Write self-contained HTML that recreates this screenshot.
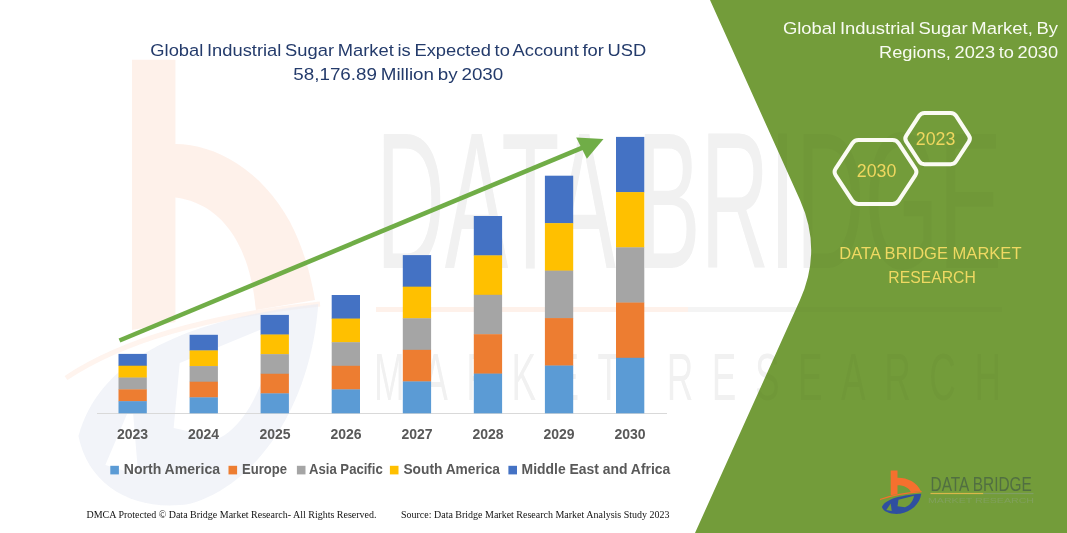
<!DOCTYPE html>
<html>
<head>
<meta charset="utf-8">
<title>Global Industrial Sugar Market</title>
<style>
  html, body { margin: 0; padding: 0; background: #ffffff; }
  body { width: 1067px; height: 533px; overflow: hidden; position: relative; font-family: "Liberation Sans", sans-serif; }
  svg { position: absolute; left: 0; top: 0; display: block; }
  text { font-family: "Liberation Sans", sans-serif; }
  .serif { font-family: "Liberation Serif", serif; }
</style>
</head>
<body>
<svg width="1067" height="533" viewBox="0 0 1067 533">
  <rect x="0" y="0" width="1067" height="533" fill="#ffffff"/>

  <!-- WATERMARK-START -->
  <g opacity="0.1">
    <path d="M132,59.7 H175.4 V144 C215,144 262,170 290,222 C302,245 310,270 315,300 L256,310 C252,262 232,205 175.4,197.6 V322 L132,330 Z" fill="#F6702E"/>
    <path d="M66,378 Q150,322 320,304" fill="none" stroke="#F6702E" stroke-width="5" opacity="0.8"/>
    <g transform="translate(73,66) scale(6.1,10)" opacity="0.65"><path d="M0.9,37 C4,30 16,25.5 40.2,23.8 C39,34 30,42 19,43.8 C10,44.6 2.5,42 0.9,37 Z" fill="#2F4FA0"/><path d="M17.5,29.7 L33,25.8 C32,32 28,36 24,37.2 L16.5,36.2 Z" fill="#ffffff"/><path d="M9.7,33.6 L5.3,39.9 L10.7,40.9 Z" fill="#ffffff"/></g>
    <rect x="376" y="307" width="312" height="5" fill="#F6702E"/>
  </g>
  <g opacity="0.042"><text x="376" y="268" font-size="194" fill="#222222" textLength="626" lengthAdjust="spacingAndGlyphs">DATA BRIDGE</text>
      <rect x="688" y="307" width="314" height="5" fill="#555555"/>
      <text transform="translate(374,400) scale(0.55,1)" x="0" y="0" font-size="67" fill="#222222" textLength="1140" lengthAdjust="spacing">MARKET RESEARCH</text></g>
  <!-- WATERMARK-END -->

  <!-- green side panel -->
  <path d="M710,0 L800,200 Q822.4,250 800,300 L695,533 L1067,533 L1067,0 Z" fill="#739C3A"/>

  <!-- WM2-START -->
  <g opacity="0.02"><text x="376" y="268" font-size="194" fill="#222222" textLength="626" lengthAdjust="spacingAndGlyphs">DATA BRIDGE</text>
      <rect x="688" y="307" width="314" height="5" fill="#555555"/>
      <text transform="translate(374,400) scale(0.55,1)" x="0" y="0" font-size="67" fill="#222222" textLength="1140" lengthAdjust="spacing">MARKET RESEARCH</text></g>
  <!-- WM2-END -->

  <!-- chart axis -->
  <rect x="97" y="413" width="570" height="1" fill="#D9D9D9"/>

  <!-- BARS-START -->
  <rect x="118.5" y="353.90" width="28.3" height="12.12" fill="#4472C4"/>
  <rect x="118.5" y="365.72" width="28.3" height="12.12" fill="#FFC000"/>
  <rect x="118.5" y="377.54" width="28.3" height="12.12" fill="#A5A5A5"/>
  <rect x="118.5" y="389.36" width="28.3" height="12.12" fill="#ED7D31"/>
  <rect x="118.5" y="401.18" width="28.3" height="12.12" fill="#5B9BD5"/>
  <rect x="189.6" y="334.80" width="28.3" height="15.94" fill="#4472C4"/>
  <rect x="189.6" y="350.44" width="28.3" height="15.94" fill="#FFC000"/>
  <rect x="189.6" y="366.08" width="28.3" height="15.94" fill="#A5A5A5"/>
  <rect x="189.6" y="381.72" width="28.3" height="15.94" fill="#ED7D31"/>
  <rect x="189.6" y="397.36" width="28.3" height="15.94" fill="#5B9BD5"/>
  <rect x="260.6" y="314.90" width="28.3" height="19.92" fill="#4472C4"/>
  <rect x="260.6" y="334.52" width="28.3" height="19.92" fill="#FFC000"/>
  <rect x="260.6" y="354.14" width="28.3" height="19.92" fill="#A5A5A5"/>
  <rect x="260.6" y="373.76" width="28.3" height="19.92" fill="#ED7D31"/>
  <rect x="260.6" y="393.38" width="28.3" height="19.92" fill="#5B9BD5"/>
  <rect x="331.7" y="295.00" width="28.3" height="23.90" fill="#4472C4"/>
  <rect x="331.7" y="318.60" width="28.3" height="23.90" fill="#FFC000"/>
  <rect x="331.7" y="342.20" width="28.3" height="23.90" fill="#A5A5A5"/>
  <rect x="331.7" y="365.80" width="28.3" height="23.90" fill="#ED7D31"/>
  <rect x="331.7" y="389.40" width="28.3" height="23.90" fill="#5B9BD5"/>
  <rect x="402.8" y="255.10" width="28.3" height="31.88" fill="#4472C4"/>
  <rect x="402.8" y="286.68" width="28.3" height="31.88" fill="#FFC000"/>
  <rect x="402.8" y="318.26" width="28.3" height="31.88" fill="#A5A5A5"/>
  <rect x="402.8" y="349.84" width="28.3" height="31.88" fill="#ED7D31"/>
  <rect x="402.8" y="381.42" width="28.3" height="31.88" fill="#5B9BD5"/>
  <rect x="473.8" y="216.00" width="28.3" height="39.70" fill="#4472C4"/>
  <rect x="473.8" y="255.40" width="28.3" height="39.70" fill="#FFC000"/>
  <rect x="473.8" y="294.80" width="28.3" height="39.70" fill="#A5A5A5"/>
  <rect x="473.8" y="334.20" width="28.3" height="39.70" fill="#ED7D31"/>
  <rect x="473.8" y="373.60" width="28.3" height="39.70" fill="#5B9BD5"/>
  <rect x="544.9" y="175.70" width="28.3" height="47.76" fill="#4472C4"/>
  <rect x="544.9" y="223.16" width="28.3" height="47.76" fill="#FFC000"/>
  <rect x="544.9" y="270.62" width="28.3" height="47.76" fill="#A5A5A5"/>
  <rect x="544.9" y="318.08" width="28.3" height="47.76" fill="#ED7D31"/>
  <rect x="544.9" y="365.54" width="28.3" height="47.76" fill="#5B9BD5"/>
  <rect x="616.0" y="136.90" width="28.3" height="55.52" fill="#4472C4"/>
  <rect x="616.0" y="192.12" width="28.3" height="55.52" fill="#FFC000"/>
  <rect x="616.0" y="247.34" width="28.3" height="55.52" fill="#A5A5A5"/>
  <rect x="616.0" y="302.56" width="28.3" height="55.52" fill="#ED7D31"/>
  <rect x="616.0" y="357.78" width="28.3" height="55.52" fill="#5B9BD5"/>
  <!-- BARS-END -->

  <!-- trend arrow -->
  <line x1="119.5" y1="340.5" x2="588" y2="145.4" stroke="#70AD47" stroke-width="4.6"/>
  <polygon points="603.5,139 576.2,137.5 586.9,158.8" fill="#70AD47"/>

  <!-- year labels -->
  <g font-size="14" font-weight="bold" fill="#595959" text-anchor="middle">
    <text x="132.5" y="439">2023</text>
    <text x="203.5" y="439">2024</text>
    <text x="275" y="439">2025</text>
    <text x="346" y="439">2026</text>
    <text x="417" y="439">2027</text>
    <text x="488" y="439">2028</text>
    <text x="559" y="439">2029</text>
    <text x="630" y="439">2030</text>
  </g>

  <!-- legend -->
  <g font-size="14" font-weight="bold" fill="#595959">
    <rect x="110.3" y="465.8" width="8.6" height="8.6" fill="#5B9BD5"/>
    <text x="123.8" y="474" textLength="96.2" lengthAdjust="spacingAndGlyphs">North America</text>
    <rect x="228.5" y="465.8" width="8.6" height="8.6" fill="#ED7D31"/>
    <text x="242" y="474" textLength="45" lengthAdjust="spacingAndGlyphs">Europe</text>
    <rect x="296.9" y="465.8" width="8.6" height="8.6" fill="#A5A5A5"/>
    <text x="309" y="474" textLength="73.7" lengthAdjust="spacingAndGlyphs">Asia Pacific</text>
    <rect x="389.9" y="465.8" width="8.6" height="8.6" fill="#FFC000"/>
    <text x="403.4" y="474" textLength="96.6" lengthAdjust="spacingAndGlyphs">South America</text>
    <rect x="508.4" y="465.8" width="8.6" height="8.6" fill="#4472C4"/>
    <text x="521.6" y="474" textLength="148.7" lengthAdjust="spacingAndGlyphs">Middle East and Africa</text>
  </g>

  <!-- chart title -->
  <g font-size="17.2" fill="#243B6B" word-spacing="-1.3">
    <text x="150.3" y="55.6" textLength="496" lengthAdjust="spacingAndGlyphs">Global Industrial Sugar Market is Expected to Account for USD</text>
    <text x="293.3" y="80" textLength="210" lengthAdjust="spacingAndGlyphs">58,176.89 Million by 2030</text>
  </g>

  <!-- panel title -->
  <g font-size="17.2" fill="#F8FBF2" word-spacing="-1.3">
    <text x="782.9" y="33.7" textLength="275.2" lengthAdjust="spacingAndGlyphs">Global Industrial Sugar Market, By</text>
    <text x="879" y="57.9" textLength="179.1" lengthAdjust="spacingAndGlyphs">Regions, 2023 to 2030</text>
  </g>

  <!-- hexagons -->
  <g fill="none" stroke="#FBFBF3" stroke-width="4" stroke-linejoin="round">
    <path d="M835.69,175.34 Q833.50,172.00 835.69,168.66 L852.31,143.34 Q854.50,140.00 858.50,140.00 L892.50,140.00 Q896.50,140.00 898.69,143.34 L915.31,168.66 Q917.50,172.00 915.31,175.34 L898.69,200.66 Q896.50,204.00 892.50,204.00 L858.50,204.00 Q854.50,204.00 852.31,200.66 Z"/>
    <path d="M906.30,141.54 Q904.40,138.60 906.30,135.66 L919.10,115.94 Q921.00,113.00 924.50,113.00 L950.70,113.00 Q954.20,113.00 956.10,115.94 L968.90,135.66 Q970.80,138.60 968.90,141.54 L956.10,161.26 Q954.20,164.20 950.70,164.20 L924.50,164.20 Q921.00,164.20 919.10,161.26 Z"/>
  </g>
  <g font-size="17.8" fill="#EFD75F" text-anchor="middle">
    <text x="876.6" y="177.3">2030</text>
    <text x="935.6" y="144.6">2023</text>
  </g>

  <!-- panel brand text -->
  <g font-size="17.2" fill="#EFD962">
    <text x="839.3" y="258.9" textLength="182.2" lengthAdjust="spacingAndGlyphs">DATA BRIDGE MARKET</text>
    <text x="888.3" y="282.6" textLength="87.5" lengthAdjust="spacingAndGlyphs">RESEARCH</text>
  </g>

  <!-- LOGO-START -->
  <g transform="translate(881,470)"><path d="M9.7,0.4 H16.5 V7.7 C26,7.5 36,12 39.8,20.9 L29.8,22.3 C28.5,18 23,15.3 16.5,15.3 V24.2 L9.7,25.2 Z" fill="#F6702E"/><path d="M-1,29.4 Q15,23.6 40.6,21.6" fill="none" stroke="#F6702E" stroke-width="1.1"/><path d="M0.9,37 C4,30 16,25.5 40.2,23.8 C39,34 30,42 19,43.8 C10,44.6 2.5,42 0.9,37 Z" fill="#2F4FA0"/><path d="M17.5,29.7 L33,25.8 C32,32 28,36 24,37.2 L16.5,36.2 Z" fill="#739C3A"/><path d="M9.7,33.6 L5.3,39.9 L10.7,40.9 Z" fill="#739C3A"/></g>
  <text x="930.5" y="490.8" font-size="20.4" fill="#4E6A42" fill-opacity="0.9" textLength="101.4" lengthAdjust="spacingAndGlyphs">DATA BRIDGE</text>
  <rect x="930.5" y="492.9" width="53" height="1.2" fill="#D9B84A"/>
  <rect x="983.5" y="492.9" width="50" height="1.2" fill="#7F9E63"/>
  <text x="928" y="503" font-size="6.8" fill="#80A05C" textLength="106" lengthAdjust="spacingAndGlyphs">MARKET RESEARCH</text>
  <!-- LOGO-END -->

  <!-- footer -->
  <g class="serif" font-size="10.6" fill="#111111">
    <text class="serif" x="86.5" y="518.4" textLength="290" lengthAdjust="spacingAndGlyphs">DMCA Protected © Data Bridge Market Research-  All Rights Reserved.</text>
    <text class="serif" x="401" y="518.4" textLength="268.5" lengthAdjust="spacingAndGlyphs">Source: Data Bridge Market Research  Market Analysis Study 2023</text>
  </g>
</svg>
</body>
</html>
